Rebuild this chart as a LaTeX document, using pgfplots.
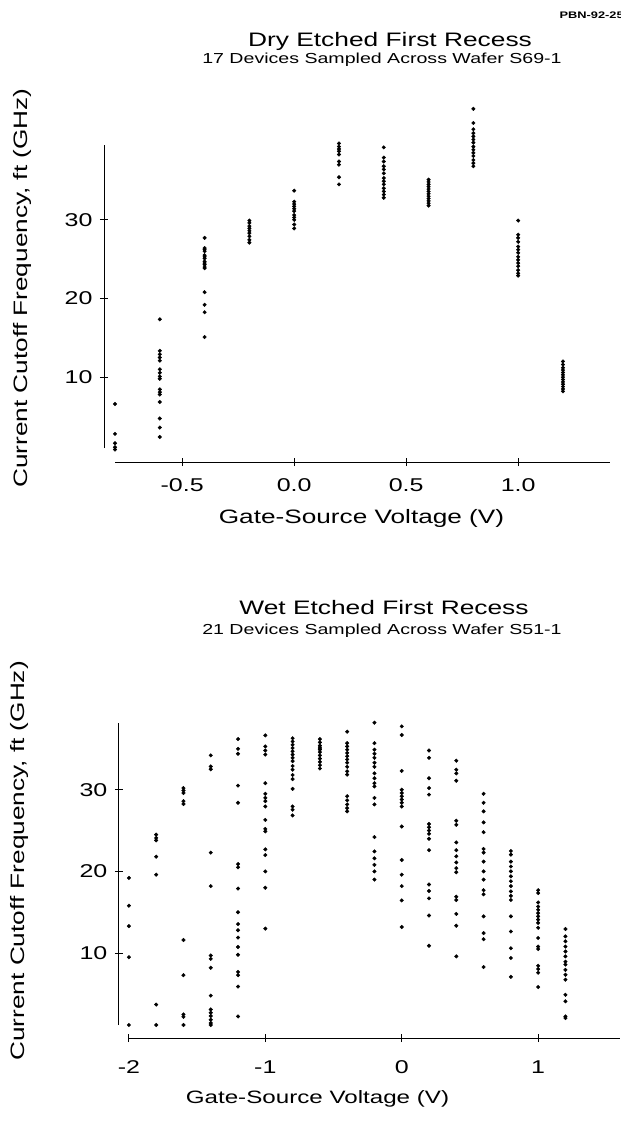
\documentclass[border=0pt]{standalone}
\usepackage{fontspec}
\setmainfont{Liberation Sans}[FakeStretch=1.35]
\usepackage{pgfplots}
\pgfplotsset{compat=1.18}

\pgfplotsset{
  scanaxis/.style={
    scale only axis, clip=false,
    axis lines=left,
    axis line style={-, line width=0.9bp},
    tick align=center, major tick length=8bp,
    tick style={line width=0.9bp, black},
    ticklabel style={font=\fontsize{18.5bp}{20bp}\selectfont},
    xticklabel style={yshift=-9bp},
    yticklabel style={xshift=-4bp},
    ylabel style={font=\fontsize{19.4bp}{22bp}\selectfont, anchor=center},
    xlabel style={anchor=center},
    every axis plot post/.append style={only marks, mark=*, mark size=1.8bp, black,
      mark options={solid, fill=black, draw=black}},
  },
}

\begin{document}
\begin{tikzpicture}
\path[use as bounding box] (0,0) rectangle (621bp,-1126bp);

\node[anchor=base west, font=\bfseries\fontsize{9.5bp}{10bp}\selectfont] at (556bp,-18bp) {PBN-92-258};

% dry etched
\node[anchor=base, font=\fontsize{19.5bp}{22bp}\selectfont] at (390bp,-46bp) {Dry Etched First Recess};
\node[anchor=base, font=\fontsize{14.5bp}{16bp}\selectfont] at (382bp,-63bp) {17 Devices Sampled Across Wafer S69-1};

\begin{axis}[scanaxis,
  at={(115bp,-448bp)}, anchor=south west, width=495bp, height=303bp,
  xmin=-0.8, xmax=1.41, ymin=1, ymax=39.5,
  axis x line shift=14bp, axis y line shift=11bp,
  xtick={-0.5,0,0.5,1}, xticklabels={-0.5,0.0,0.5,1.0},
  ytick={10,20,30}, yticklabels={10,20,30},
  xlabel={Gate-Source Voltage (V)},
  ylabel={Current Cutoff Frequency, ft (GHz)},
  xlabel style={font=\fontsize{19.4bp}{22bp}\selectfont, at={(axis description cs:0.498,-0.231)}},
  ylabel style={at={(axis description cs:-0.186,0.528)}},
]
\addplot coordinates {(-0.8,6.6)(-0.8,2.8)(-0.8,1.6)(-0.8,1.1)(-0.8,0.8)};
\addplot coordinates {(-0.6,17.35)(-0.6,13.35)(-0.6,12.9)(-0.6,12.5)(-0.6,12.1)(-0.6,11.0)(-0.6,10.55)(-0.6,10.1)(-0.6,9.8)
  (-0.6,8.45)(-0.6,8.1)(-0.6,7.8)(-0.6,6.85)(-0.6,4.75)(-0.6,3.6)(-0.6,2.4)};
\addplot coordinates {(-0.4,27.7)(-0.4,26.4)(-0.4,26.2)(-0.4,26.0)(-0.4,25.5)(-0.4,25.3)(-0.4,25.1)(-0.4,24.7)(-0.4,24.5)
  (-0.4,24.3)(-0.4,24.0)(-0.4,23.85)(-0.4,20.8)(-0.4,19.2)(-0.4,18.25)(-0.4,15.1)};
\addplot coordinates {(-0.2,29.9)(-0.2,29.6)(-0.2,29.2)(-0.2,28.9)(-0.2,28.6)(-0.2,28.3)(-0.2,27.9)(-0.2,27.45)(-0.2,27.1)};
\addplot coordinates {(0,33.7)(0,32.3)(0,32.0)(0,31.7)(0,31.4)(0,31.1)(0,30.6)(0,30.3)(0,30.0)(0,29.4)(0,28.9)};
\addplot coordinates {(0.2,39.7)(0.2,39.3)(0.2,39.0)(0.2,38.7)(0.2,38.3)(0.2,37.4)(0.2,37.0)(0.2,35.4)(0.2,34.5)};
\addplot coordinates {(0.4,39.2)(0.4,37.9)(0.4,37.4)(0.4,36.8)(0.4,36.4)(0.4,35.9)(0.4,35.3)(0.4,34.9)(0.4,34.5)
  (0.4,34.0)(0.4,33.6)(0.4,33.2)(0.4,32.8)};
\addplot coordinates {(0.6,35.1)(0.6,34.8)(0.6,34.5)(0.6,34.2)(0.6,33.9)(0.6,33.6)(0.6,33.3)(0.6,33.0)(0.6,32.7)
  (0.6,32.4)(0.6,32.1)(0.6,31.8)};
\addplot coordinates {(0.8,44.1)(0.8,42.3)(0.8,41.5)(0.8,41.0)(0.8,40.6)(0.8,40.2)(0.8,39.8)(0.8,39.3)(0.8,38.9)
  (0.8,38.5)(0.8,38.1)(0.8,37.6)(0.8,37.2)(0.8,36.8)};
\addplot coordinates {(1,29.9)(1,28.1)(1,27.7)(1,27.2)(1,26.6)(1,26.2)(1,25.8)(1,25.3)(1,24.9)(1,24.5)(1,24.1)
  (1,23.6)(1,23.2)(1,22.9)};
\addplot coordinates {(1.2,12.0)(1.2,11.6)(1.2,11.2)(1.2,10.9)(1.2,10.6)(1.2,10.3)(1.2,10.0)(1.2,9.7)(1.2,9.4)
  (1.2,9.1)(1.2,8.8)(1.2,8.5)(1.2,8.2)};
\end{axis}

% wet etched
\node[anchor=base, font=\fontsize{19.5bp}{22bp}\selectfont] at (384bp,-614bp) {Wet Etched First Recess};
\node[anchor=base, font=\fontsize{14.5bp}{16bp}\selectfont] at (382bp,-634bp) {21 Devices Sampled Across Wafer S51-1};

\begin{axis}[scanaxis,
  at={(128.9bp,-1025bp)}, anchor=south west, width=491.1bp, height=302.3bp,
  xmin=-2, xmax=1.6, ymin=1.2, ymax=38.2,
  axis x line shift=13bp, axis y line shift=10bp,
  xtick={-2,-1,0,1}, xticklabels={-2,-1,0,1},
  xticklabel style={yshift=-6bp},
  ytick={10,20,30}, yticklabels={10,20,30},
  xlabel={Gate-Source Voltage (V)},
  ylabel={Current Cutoff Frequency, ft (GHz)},
  xlabel style={font=\fontsize{17.9bp}{20bp}\selectfont, at={(axis description cs:0.384,-0.245)}},
  ylabel style={at={(axis description cs:-0.222,0.543)}},
]
\addplot coordinates {(-2,19.2)(-2,15.8)(-2,13.3)(-2,9.5)(-2,1.2)};
\addplot coordinates {(-1.8,24.5)(-1.8,24.1)(-1.8,23.8)(-1.8,21.8)(-1.8,19.6)(-1.8,3.7)(-1.8,1.2)};
\addplot coordinates {(-1.6,30.2)(-1.6,29.9)(-1.6,29.6)(-1.6,28.6)(-1.6,28.25)(-1.6,11.6)(-1.6,7.3)(-1.6,2.5)(-1.6,2.2)(-1.6,1.2)};
\addplot coordinates {(-1.4,34.2)(-1.4,32.85)(-1.4,32.5)(-1.4,22.3)(-1.4,18.2)(-1.4,9.7)(-1.4,9.3)(-1.4,8.2)(-1.4,4.8)
  (-1.4,3.1)(-1.4,2.7)(-1.4,2.3)(-1.4,1.85)(-1.4,1.45)(-1.4,1.2)};
\addplot coordinates {(-1.2,36.2)(-1.2,35.0)(-1.2,34.4)(-1.2,30.5)(-1.2,28.4)(-1.2,20.9)(-1.2,20.5)(-1.2,17.9)(-1.2,15.0)
  (-1.2,13.55)(-1.2,12.8)(-1.2,11.9)(-1.2,10.75)(-1.2,9.8)(-1.2,7.7)(-1.2,7.3)(-1.2,5.9)(-1.2,2.25)};
\addplot coordinates {(-1,36.65)(-1,35.3)(-1,34.8)(-1,34.3)(-1,30.8)(-1,29.5)(-1,29.0)(-1,28.6)(-1,27.95)(-1,26.3)
  (-1,25.2)(-1,24.9)(-1,22.7)(-1,22.0)(-1,20.0)(-1,18.0)(-1,13.0)};
\addplot coordinates {(-0.8,36.3)(-0.8,35.9)(-0.8,35.5)(-0.8,35.1)(-0.8,34.7)(-0.8,34.3)(-0.8,33.9)(-0.8,33.5)(-0.8,32.9)
  (-0.8,32.45)(-0.8,31.8)(-0.8,31.3)(-0.8,30.1)(-0.8,27.95)(-0.8,27.55)(-0.8,26.85)};
\addplot coordinates {(-0.6,36.2)(-0.6,35.8)(-0.6,35.4)(-0.6,35.2)(-0.6,35.0)(-0.6,34.9)(-0.6,34.6)(-0.6,34.2)(-0.6,33.8)
  (-0.6,33.4)(-0.6,33.0)(-0.6,32.6)};
\addplot coordinates {(-0.4,37.1)(-0.4,35.7)(-0.4,35.3)(-0.4,34.9)(-0.4,34.5)(-0.4,34.1)(-0.4,33.7)(-0.4,33.3)(-0.4,32.8)
  (-0.4,32.25)(-0.4,31.85)(-0.4,29.2)(-0.4,28.7)(-0.4,28.2)(-0.4,27.75)(-0.4,27.35)};
\addplot coordinates {(-0.2,38.2)(-0.2,35.7)(-0.2,34.9)(-0.2,34.4)(-0.2,33.9)(-0.2,33.3)(-0.2,32.8)(-0.2,32.0)(-0.2,31.4)
  (-0.2,30.8)(-0.2,30.4)(-0.2,29.0)(-0.2,28.2)(-0.2,24.2)(-0.2,22.45)(-0.2,21.6)(-0.2,20.8)(-0.2,20.0)(-0.2,19.0)};
\addplot coordinates {(0,37.75)(0,36.7)(0,32.3)(0,30.0)(0,29.6)(0,29.2)(0,28.8)(0,28.4)(0,27.95)(0,25.5)(0,21.4)
  (0,19.6)(0,18.2)(0,16.45)(0,13.2)};
\addplot coordinates {(0.2,34.8)(0.2,33.9)(0.2,31.4)(0.2,30.2)(0.2,29.4)(0.2,25.8)(0.2,25.4)(0.2,25.0)(0.2,24.6)
  (0.2,24.0)(0.2,22.6)(0.2,18.4)(0.2,17.6)(0.2,16.7)(0.2,14.6)(0.2,10.9)};
\addplot coordinates {(0.4,33.55)(0.4,32.45)(0.4,32.0)(0.4,31.1)(0.4,26.2)(0.4,25.7)(0.4,23.55)(0.4,22.6)(0.4,21.85)
  (0.4,21.1)(0.4,20.4)(0.4,19.9)(0.4,16.9)(0.4,16.5)(0.4,14.8)(0.4,13.35)(0.4,9.6)};
\addplot coordinates {(0.6,29.5)(0.6,28.4)(0.6,27.35)(0.6,26.0)(0.6,24.8)(0.6,22.75)(0.6,22.3)(0.6,21.2)(0.6,20.0)
  (0.6,19.0)(0.6,17.7)(0.6,17.2)(0.6,14.5)(0.6,12.45)(0.6,11.7)(0.6,8.3)};
\addplot coordinates {(0.8,22.5)(0.8,22.05)(0.8,21.2)(0.8,20.6)(0.8,20.0)(0.8,19.4)(0.8,18.8)(0.8,18.2)(0.8,17.55)
  (0.8,17.0)(0.8,16.5)(0.8,14.5)(0.8,12.65)(0.8,10.6)(0.8,9.4)(0.8,7.1)};
\addplot coordinates {(1,17.7)(1,17.35)(1,16.2)(1,15.7)(1,15.3)(1,14.9)(1,14.5)(1,14.1)(1,13.7)(1,13.1)(1,11.85)
  (1,10.8)(1,10.5)(1,8.45)(1,8.05)(1,7.6)(1,5.85)};
\addplot coordinates {(1.2,12.95)(1.2,12.05)(1.2,11.45)(1.2,10.8)(1.2,10.2)(1.2,9.6)(1.2,8.95)(1.2,8.6)(1.2,7.95)
  (1.2,7.35)(1.2,6.75)(1.2,4.9)(1.2,4.1)(1.2,2.25)(1.2,2.05)};
\end{axis}
\end{tikzpicture}
\end{document}
